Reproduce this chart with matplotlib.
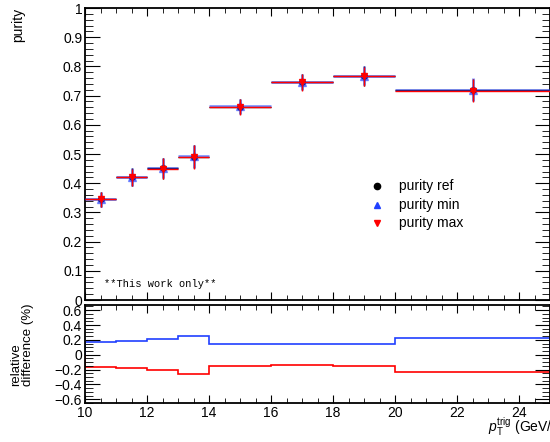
import numpy as np
import matplotlib
matplotlib.use('Agg')
import matplotlib.pyplot as plt
from matplotlib.ticker import MultipleLocator

plt.rcParams['font.family'] = ['Liberation Sans', 'DejaVu Sans']
plt.rcParams['mathtext.fontset'] = 'custom'
plt.rcParams['mathtext.rm'] = 'Liberation Sans'
plt.rcParams['mathtext.it'] = 'Liberation Sans:italic'

# bin edges in pT trig (GeV/c)
bin_edges = [10, 11, 12, 13, 14, 16, 18, 20, 25]
purity_ref = [0.345, 0.421, 0.451, 0.491, 0.662, 0.746, 0.767, 0.719]
purity_err = [0.026, 0.030, 0.035, 0.040, 0.026, 0.028, 0.033, 0.038]
# relative differences of min / max wrt ref
reldiff_min = [0.165, 0.18, 0.21, 0.25, 0.15, 0.14, 0.15, 0.225]
reldiff_max = [-0.165, -0.185, -0.21, -0.26, -0.15, -0.14, -0.15, -0.23]

edges = np.array(bin_edges, dtype=float)
centers = 0.5 * (edges[1:] + edges[:-1])
half_w = 0.5 * (edges[1:] - edges[:-1])
ref = np.array(purity_ref)
err = np.array(purity_err)
pmin = ref * (1 + np.array(reldiff_min) / 100)
pmax = ref * (1 + np.array(reldiff_max) / 100)

fig = plt.figure(figsize=(5.5, 4.42), dpi=100)
ax = fig.add_axes([85 / 550, 1 - 300 / 442, 465 / 550, 292 / 442])
ax2 = fig.add_axes([85 / 550, 1 - 403 / 442, 465 / 550, 98 / 442])

# top panel
ax.errorbar(centers, ref, yerr=err, xerr=half_w, fmt='o', color='black',
            ms=4, lw=1, zorder=2)
ax.errorbar(centers, pmin, yerr=err, xerr=half_w, fmt='^', color='#2040ff',
            ms=5.5, lw=2.0, alpha=0.55, zorder=3)
ax.errorbar(centers, pmax, yerr=err, xerr=half_w, fmt='v', color='#ff0000',
            ms=5, lw=1.0, zorder=4)

ax.set_xlim(10, 25)
ax.set_ylim(0, 1)
ax.yaxis.set_minor_locator(MultipleLocator(0.02))
ax.set_yticks(np.arange(0, 1.01, 0.1))
ax.set_yticklabels(['0', '0.1', '0.2', '0.3', '0.4', '0.5', '0.6', '0.7',
                    '0.8', '0.9', '1'])
ax.xaxis.set_major_locator(MultipleLocator(2))
ax.xaxis.set_minor_locator(MultipleLocator(0.5))
ax.tick_params(labelbottom=False)

# legend drawn by hand as in the original
legend_labels = ['purity ref', 'purity min', 'purity max']
legend_markers = ['o', '^', 'v']
legend_colors = ['black', '#2040ff', 'red']
for i in range(3):
    yy = 0.39 - i * 0.063
    ax.plot([0.628], [yy], marker=legend_markers[i], color=legend_colors[i],
            ms=4.5, transform=ax.transAxes, clip_on=False)
    ax.text(0.675, yy, legend_labels[i], transform=ax.transAxes,
            fontsize=10, va='center')

ax.text(0.04, 0.045, '**This work only**', transform=ax.transAxes,
        family='Liberation Mono', fontsize=7.5)

# bottom panel
ax2.stairs(reldiff_min, edges, color='#2040ff', lw=1.2)
ax2.stairs(reldiff_max, edges, color='red', lw=1.2)
ax2.set_xlim(10, 25)
ax2.set_ylim(-0.65, 0.67)
ax2.yaxis.set_minor_locator(MultipleLocator(0.05))
ax2.set_yticks([-0.6, -0.4, -0.2, 0, 0.2, 0.4, 0.6])
ax2.set_yticklabels(['\u22120.6', '\u22120.4', '\u22120.2', '0', '0.2', '0.4', '0.6'])
ax2.xaxis.set_major_locator(MultipleLocator(2))
ax2.xaxis.set_minor_locator(MultipleLocator(0.5))

for a in (ax, ax2):
    a.tick_params(which='both', direction='in', top=True, right=True,
                  labelsize=10, pad=2)
    a.tick_params(axis='y', which='major', length=11)
    a.tick_params(axis='y', which='minor', length=5.5)
    a.tick_params(axis='x', which='major', length=6)
    a.tick_params(axis='x', which='minor', length=3.5)
    for s in a.spines.values():
        s.set_linewidth(1.3)

fig.text(18 / 550, 1 - 8 / 442, 'purity', rotation=90, ha='center', va='top',
         fontsize=10)
fig.text(22 / 550, 1 - 386 / 442, 'relative\ndifference (%)', rotation=90,
         ha='center', va='bottom', multialignment='left', fontsize=9.5,
         linespacing=1.0)
fig.text(488 / 550, 1 - 433 / 442,
         r'$p_{\mathrm{T}}^{\mathrm{trig}}$ (GeV/$c$)', ha='left',
         va='baseline', fontsize=10)

fig.savefig('out.png', dpi=100)
